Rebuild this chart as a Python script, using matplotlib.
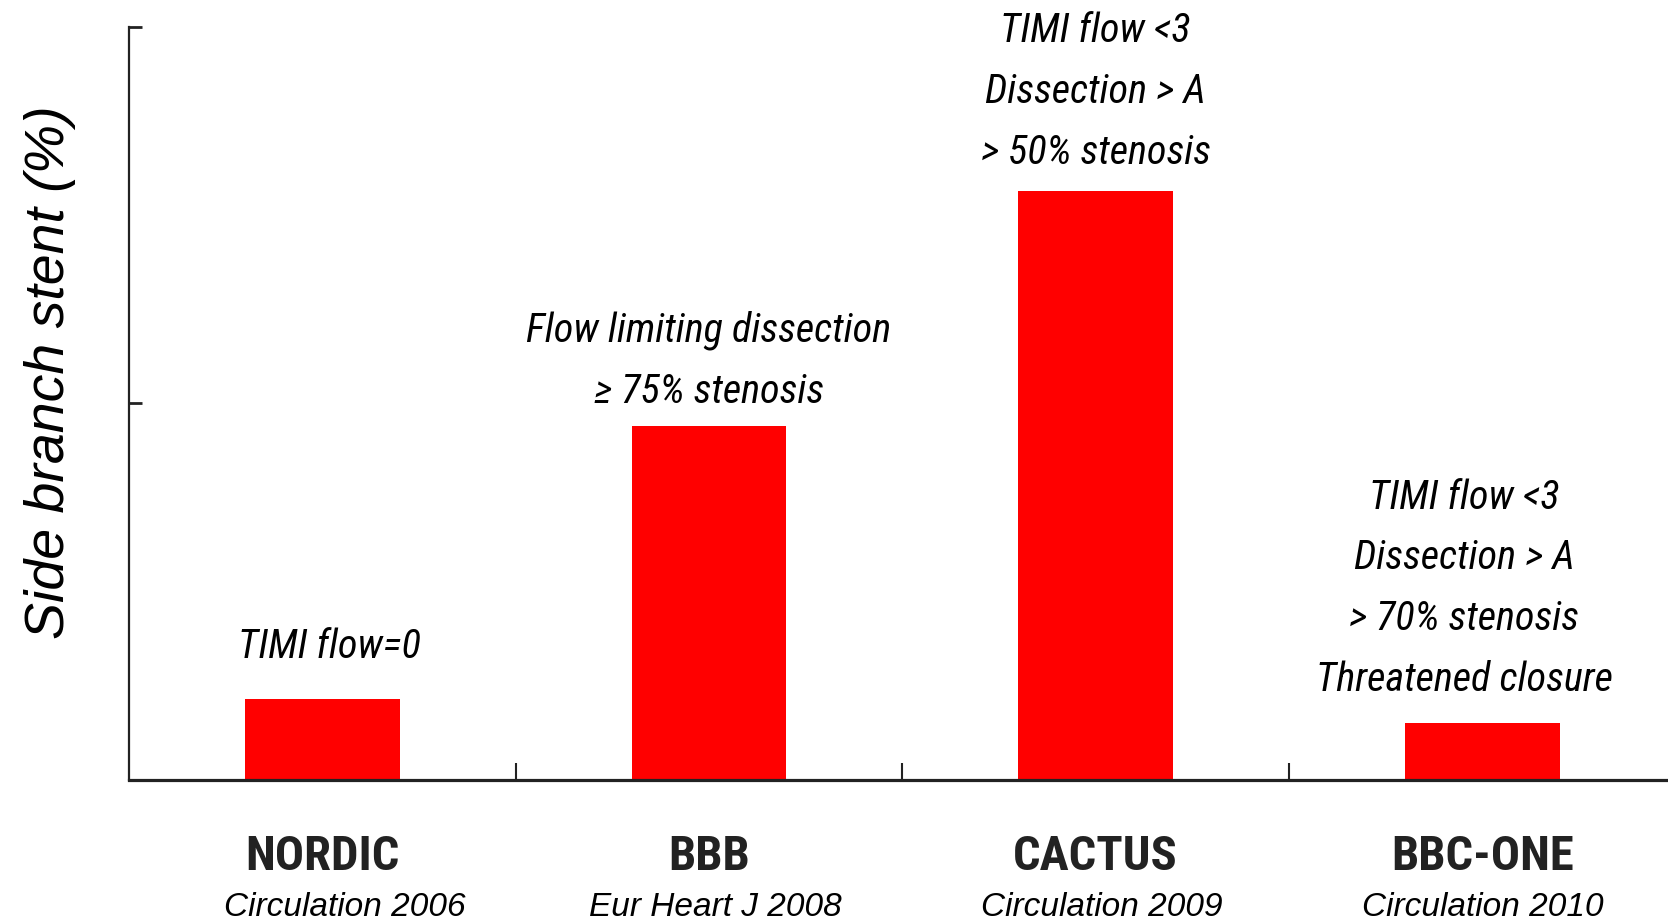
import numpy as np
import matplotlib.pyplot as plt

# side branch stenting rate per trial
studies = ['NORDIC', 'BBB', 'CACTUS', 'BBC-ONE']
journals = ['Circulation 2006', 'Eur Heart J 2008', 'Circulation 2009', 'Circulation 2010']
sb_stent = [4.3, 18.8, 31.3, 3.0]
criteria = ['TIMI flow=0',
            'Flow limiting dissection\n\u2265 75% stenosis',
            'TIMI flow <3\nDissection > A\n> 50% stenosis',
            'TIMI flow <3\nDissection > A\n> 70% stenosis\nThreatened closure']

NARROW = ['Roboto Condensed', 'Liberation Sans Narrow', 'Liberation Sans', 'DejaVu Sans']
REGULAR = ['Liberation Sans', 'DejaVu Sans']

# offsets (pixels) for the criteria text above each bar and the journal line
crit_off = [(7, 52), (0, 65), (0, 99), (-18, 135)]
journal_dx = [23, 6, 6, 0]


def plot_bars():
    fig = plt.figure(figsize=(16.68, 9.21), dpi=100)
    ax = fig.add_axes([0.0773, 0.1531, 0.9227, 0.8179])
    x = np.arange(len(studies))
    ax.bar(x, sb_stent, width=0.4, color='#ff0000', zorder=1)

    ax.set_xlim(-0.5, 3.48)
    ax.set_ylim(0, 40)

    for side in ['top', 'right']:
        ax.spines[side].set_visible(False)
    ax.spines['left'].set_linewidth(1.6)
    ax.spines['bottom'].set_linewidth(2.3)
    for side in ['left', 'bottom']:
        ax.spines[side].set_color('#222222')
        ax.spines[side].set_zorder(3)

    ax.set_xticks([0.5, 1.5, 2.5])
    ax.set_xticklabels([])
    ax.tick_params(axis='x', direction='in', length=12, width=1.5, color='#222222')
    ax.set_yticks([0, 20, 40])
    ax.set_yticklabels([])
    ax.tick_params(axis='y', direction='in', length=9, width=2, color='#222222')

    ax.set_ylabel('Side branch stent (%)', fontsize=40, style='italic',
                  family=REGULAR, va='center', color='black')
    ax.yaxis.set_label_coords(-0.0516, 0.5415)

    for i in range(len(studies)):
        ax.annotate(criteria[i], xy=(x[i], sb_stent[i]), xycoords='data',
                    xytext=crit_off[i], textcoords='offset pixels',
                    ha='center', va='center', multialignment='center',
                    fontsize=29, style='italic', family=NARROW,
                    linespacing=1.73, color='black', annotation_clip=False)
        ax.annotate(studies[i], xy=(x[i], 0), xycoords='data',
                    xytext=(0, -90), textcoords='offset pixels',
                    ha='center', va='baseline', fontsize=35, fontweight='bold',
                    family=NARROW, color='#222222', annotation_clip=False)
        ax.annotate(journals[i], xy=(x[i], 0), xycoords='data',
                    xytext=(journal_dx[i], -136), textcoords='offset pixels',
                    ha='center', va='baseline', fontsize=24, style='italic',
                    family=REGULAR, color='black', annotation_clip=False)

    plt.savefig('out.png', dpi=100)


plot_bars()
